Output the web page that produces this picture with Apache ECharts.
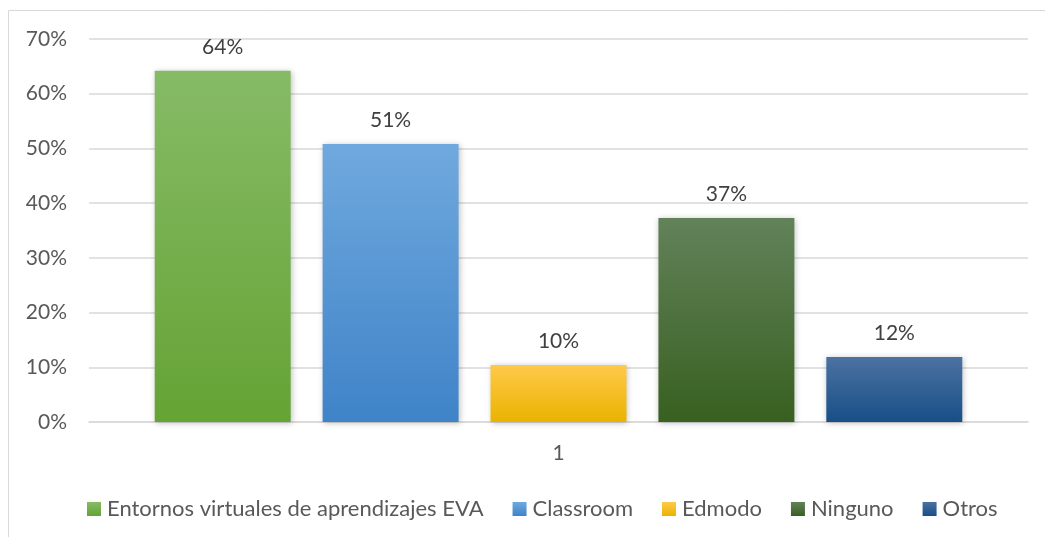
<!DOCTYPE html>
<html><head><meta charset="utf-8">
<script src="https://cdn.jsdelivr.net/npm/echarts@6/dist/echarts.min.js"></script>
<style>html,body{margin:0;padding:0;background:#fff}#c{width:1045px;height:537px}</style>
</head><body><div id="c"></div>
<script>
const categories = ['1'];
const seriesNames = ['Entornos virtuales de aprendizajes EVA', 'Classroom', 'Edmodo', 'Ninguno', 'Otros'];
const seriesValues = [64.2, 50.8, 10.4, 37.3, 11.9];
const seriesLabels = ['64%', '51%', '10%', '37%', '12%'];
const yTicks = [0, 10, 20, 30, 40, 50, 60, 70];
const topColors = ['#86bb66', '#70a9de', '#ffc94a', '#62825a', '#4c72a2'];
const bottomColors = ['#65a334', '#3f83c8', '#eab300', '#386020', '#174f87'];

const FONT = 'Lato';
const chart = echarts.init(document.getElementById('c'));
chart.setOption({
  animation: false,
  graphic: [{type:'rect', shape:{x:8.5,y:10.5,width:1100,height:600}, style:{fill:'none', stroke:'#d9d9d9', lineWidth:1}}],
  grid: {left: 89, right: 17, top: 39, bottom: 115},
  legend: {
    top: 493, left: 82, itemWidth: 14, itemHeight: 14, itemGap: 29,
    icon: 'rect',
    textStyle: {fontFamily: FONT, fontSize: 22, color: '#595959', padding: [0, 0, 0, 1]},
    data: seriesNames
  },
  xAxis: {
    type: 'category', data: categories,
    axisLine: {lineStyle: {color: '#d9d9d9', width: 1.5}},
    axisTick: {show: false},
    axisLabel: {fontFamily: FONT, fontSize: 21, color: '#595959', margin: 21}
  },
  yAxis: {
    type: 'value', min: yTicks[0], max: yTicks[yTicks.length - 1], interval: 10,
    axisLine: {show: false}, axisTick: {show: false},
    splitLine: {lineStyle: {color: '#d9d9d9', width: 1.5}},
    axisLabel: {fontFamily: FONT, fontSize: 21, color: '#595959', margin: 22, formatter: v => v + '%'}
  },
  series: seriesNames.map((n, i) => ({
    name: n, type: 'bar',
    barGap: '23.5%', barCategoryGap: '14%',
    data: [seriesValues[i]],
    itemStyle: {
      color: new echarts.graphic.LinearGradient(0, 0, 0, 1, [{offset: 0, color: topColors[i]}, {offset: 1, color: bottomColors[i]}]),
      shadowBlur: 6, shadowColor: 'rgba(0,0,0,0.25)', shadowOffsetX: 1, shadowOffsetY: 1
    },
    label: {
      show: true, position: 'top', distance: 13,
      fontFamily: FONT, fontSize: 21, color: '#404040',
      formatter: () => seriesLabels[i]
    }
  }))
});
</script></body></html>
